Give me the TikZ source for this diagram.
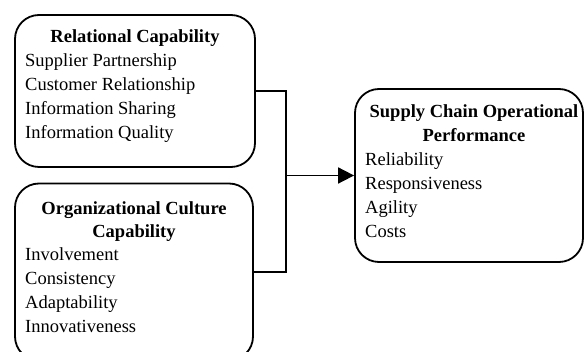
\documentclass[tikz,border=0pt]{standalone}
\usepackage{fontspec}
\setmainfont{Liberation Serif}
\usetikzlibrary{arrows.meta}

\begin{document}
\begin{tikzpicture}
  [x=1pt,y=-1pt,
   font=\fontsize{18.5}{24}\selectfont,
   box/.style={draw,line width=1.8pt,rounded corners=24pt,inner sep=0pt},
   head/.style={anchor=base,font=\fontsize{18.5}{24}\selectfont\bfseries},
   item/.style={anchor=base west,inner sep=0pt},
   link/.style={line width=1.8pt},
   arr/.style={line width=1.8pt,-{Triangle[length=16pt,width=16pt]}}
  ]
  \useasboundingbox (0,0) rectangle (584,352);

  % the three boxes
  \node[box,minimum width=240pt,minimum height=152pt] (rel) at (135,91) {};
  \node[box,minimum width=238pt,minimum height=177pt] (org) at (134,272) {};
  \node[box,minimum width=228pt,minimum height=173pt] (perf) at (469,175.5) {};

  % headings
  \node[head] (relT) at (135,43) {Relational Capability};
  \node[head] (orgT1) at (134,215) {Organizational Culture};
  \node[head] (orgT2) at (134,238) {Capability};
  \node[head] (perfT1) at (474,118) {Supply Chain Operational};
  \node[head] (perfT2) at (474,142) {Performance};

  % lists
  \foreach \t [count=\i] in {Supplier Partnership,Customer Relationship,Information Sharing,Information Quality}
    \node[item] (rel-\i) at (25,{43+24*\i}) {\t};
  \foreach \t [count=\i] in {Involvement,Consistency,Adaptability,Innovativeness}
    \node[item] (org-\i) at (25,{237+24*\i}) {\t};
  \foreach \t [count=\i] in {Reliability,Responsiveness,Agility,Costs}
    \node[item] (perf-\i) at (365,{142+24*\i}) {\t};

  % connectors
  \path (perf.west) ++(-68,0) coordinate (j);
  \draw[link] (rel.east) -| (j) |- (org.east);
  \draw[arr] (j) -- (perf.west);

\end{tikzpicture}
\end{document}
